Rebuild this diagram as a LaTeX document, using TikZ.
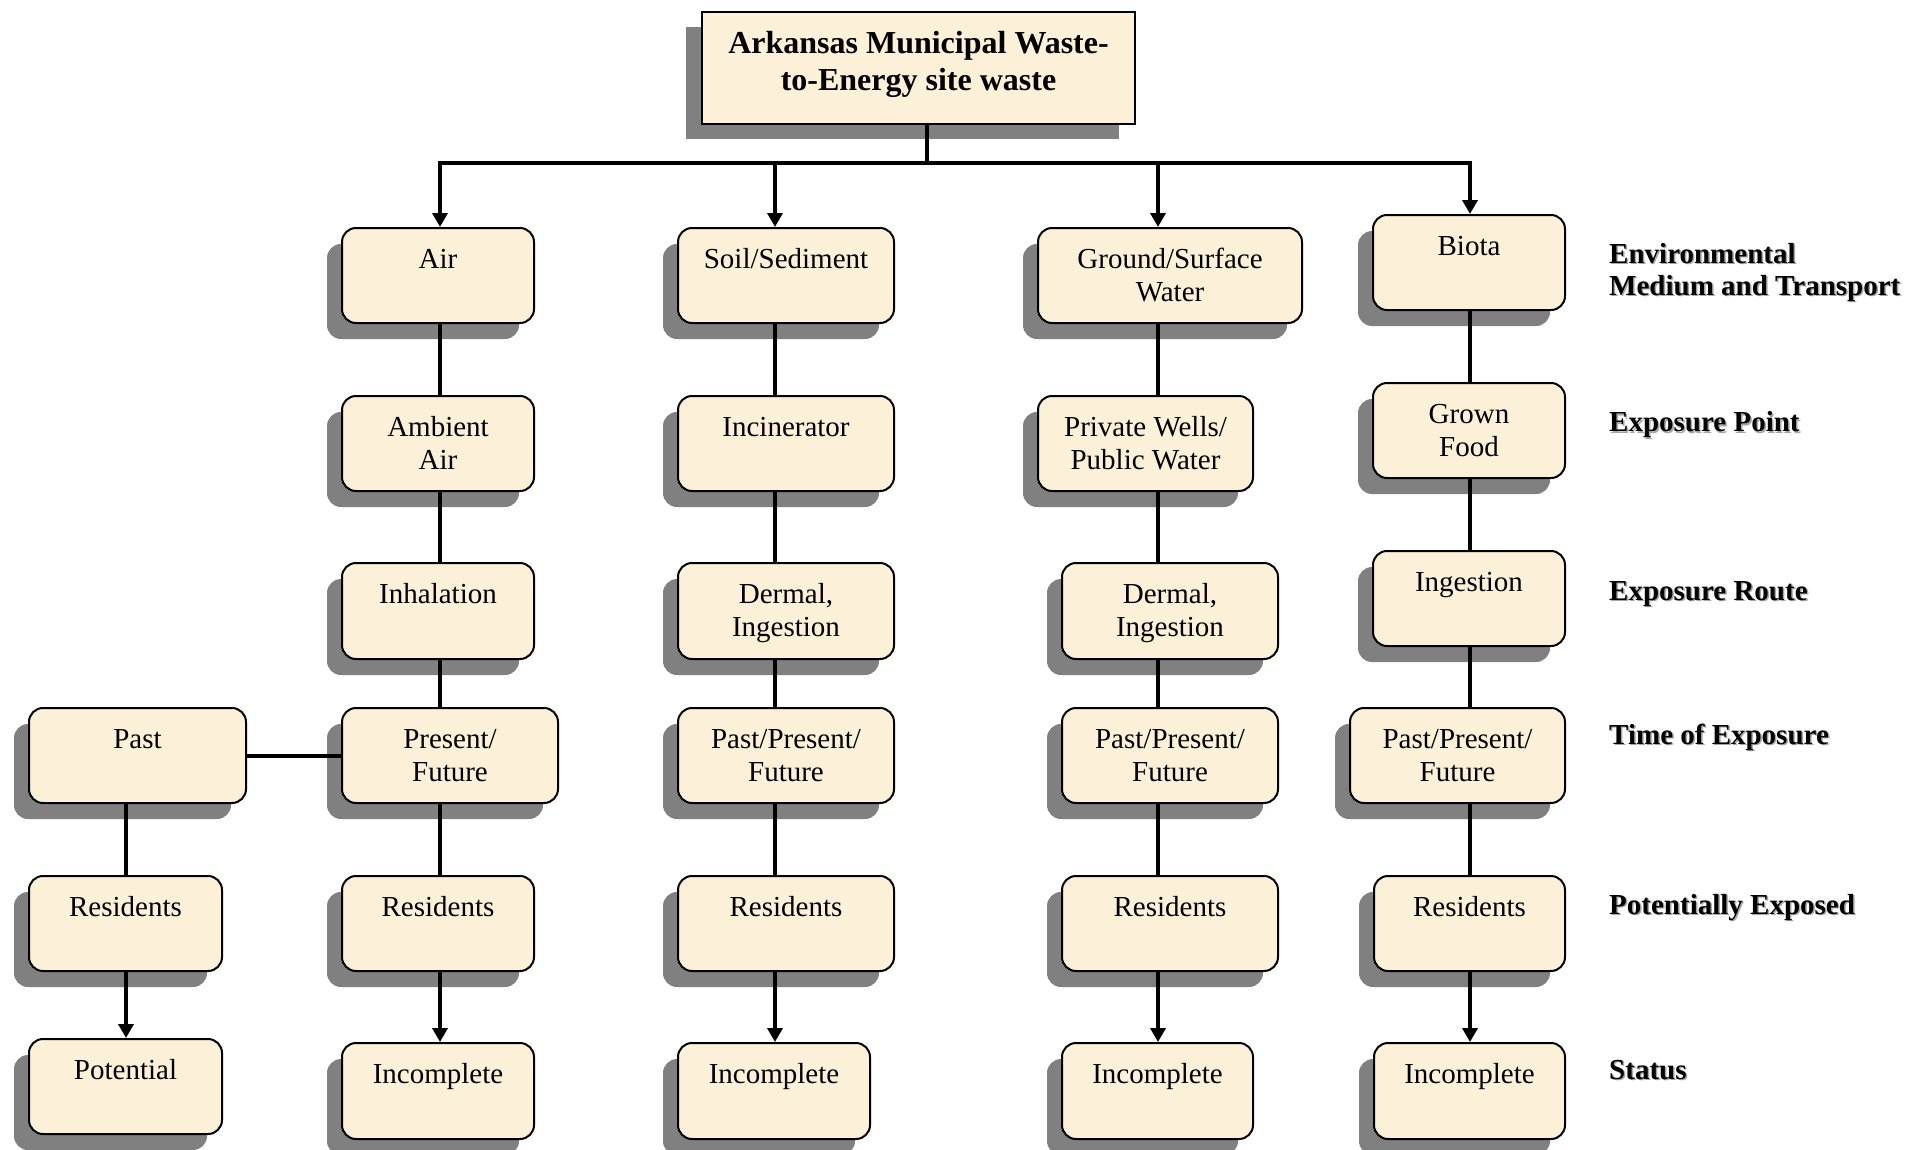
\documentclass[tikz,border=0pt]{standalone}
\usepackage{fontspec}
\setmainfont{Liberation Serif}
\usetikzlibrary{arrows.meta,fit,calc}
\definecolor{cream}{RGB}{252,241,216}
\definecolor{shad}{RGB}{128,128,128}
\tikzset{
  boxst/.style={draw=black, line width=2pt, fill=cream, rounded corners=14pt, inner sep=0pt},
  titlest/.style={draw=black, line width=2pt, fill=cream, inner sep=0pt},
  shadst/.style={fill=shad, rounded corners=14pt},
  txt/.style={inner sep=0pt, align=center, anchor=north, font=\fontsize{29}{33}\selectfont},
  titletxt/.style={inner sep=0pt, align=center, anchor=north, font=\fontsize{32}{37}\selectfont\bfseries},
  lab/.style={inner sep=0pt, align=left, anchor=north west, font=\fontsize{29}{32}\selectfont\bfseries},
  labshad/.style={lab, text=gray!70},
  conn/.style={line width=3.5pt},
  arr/.style={line width=3.5pt, -{Triangle[width=15pt,length=14pt]}},
}
\newcommand\mybox[6]{%
  \fill[shadst] (#2-15,#3+16) rectangle (#4-15,#5+16);
  \node[boxst, fit={(#2,#3) (#4,#5)}] (#1) {};
  \node[txt] (#1-t) at ($(#1.north)+(0,18)$) {\strut #6};
}
\newcommand\mylab[3]{%
  \node[labshad] (#1-s) at (1609+1.5,#2+1.5) {\strut #3};
  \node[lab] (#1) at (1609,#2) {\strut #3};
}
\begin{document}
\begin{tikzpicture}[x=1pt,y=-1pt]
\fill[white] (0,0) rectangle (1913,1149);
\useasboundingbox (0,0) rectangle (1913,1149);

% title
\fill[shad] (686,27) rectangle (1119,139);
\node[titlest, fit={(702,12) (1135,124)}] (top) {};
\node[titletxt] (top-t) at ($(top.north)+(0,16)$) {\strut Arkansas Municipal Waste-\\to-Energy site waste};

% column 1
\mybox{air}{342}{228}{534}{323}{Air}
\mybox{amb}{342}{396}{534}{491}{Ambient\\Air}
\mybox{inh}{342}{563}{534}{659}{Inhalation}
\mybox{pfa}{342}{708}{558}{803}{Present/\\Future}
\mybox{resa}{342}{876}{534}{971}{Residents}
\mybox{inca}{342}{1043}{534}{1139}{Incomplete}
% past column
\mybox{past}{29}{708}{246}{803}{Past}
\mybox{resp}{29}{876}{222}{971}{Residents}
\mybox{pot}{29}{1039}{222}{1134}{Potential}
% column 2
\mybox{soil}{678}{228}{894}{323}{Soil/Sediment}
\mybox{incin}{678}{396}{894}{491}{Incinerator}
\mybox{derb}{678}{563}{894}{659}{Dermal,\\Ingestion}
\mybox{pfb}{678}{708}{894}{803}{Past/Present/\\Future}
\mybox{resb}{678}{876}{894}{971}{Residents}
\mybox{incb}{678}{1043}{870}{1139}{Incomplete}
% column 3
\mybox{gsw}{1038}{228}{1302}{323}{Ground/Surface\\Water}
\mybox{pw}{1038}{396}{1253}{491}{Private Wells/\\Public Water}
\mybox{derc}{1062}{563}{1278}{659}{Dermal,\\Ingestion}
\mybox{pfc}{1062}{708}{1278}{803}{Past/Present/\\Future}
\mybox{resc}{1062}{876}{1278}{971}{Residents}
\mybox{incc}{1062}{1043}{1253}{1139}{Incomplete}
% column 4
\mybox{bio}{1373}{215}{1565}{310}{Biota}
\mybox{gf}{1373}{383}{1565}{478}{Grown\\Food}
\mybox{ing}{1373}{551}{1565}{646}{Ingestion}
\mybox{pfd}{1350}{708}{1565}{803}{Past/Present/\\Future}
\mybox{resd}{1374}{876}{1565}{971}{Residents}
\mybox{incd}{1374}{1043}{1565}{1139}{Incomplete}

% right labels
\mylab{l1}{240.6}{Environmental\\Medium and Transport}
\mylab{l2}{409}{Exposure Point}
\mylab{l3}{577.6}{Exposure Route}
\mylab{l4}{721.6}{Time of Exposure}
\mylab{l5}{891.6}{Potentially Exposed}
\mylab{l6}{1056.6}{Status}

% connector coordinates
\coordinate (tj) at (927,163);
\coordinate (xa) at (440,163);
\coordinate (xb) at (775,163);
\coordinate (xc) at (1158,163);
\coordinate (xd) at (1470,163);
\coordinate (xp) at (126,0);
\coordinate (yl) at (0,756);

\draw[conn] (tj |- top.south) -- (tj);
\draw[conn, line cap=rect] (xa) -- (xd);
\draw[arr] (xa) -- (xa |- air.north);
\draw[arr] (xb) -- (xb |- soil.north);
\draw[arr] (xc) -- (xc |- gsw.north);
\draw[arr] (xd) -- (xd |- bio.north);

% column 1
\draw[conn] (xa |- air.south) -- (xa |- amb.north);
\draw[conn] (xa |- amb.south) -- (xa |- inh.north);
\draw[conn] (xa |- inh.south) -- (xa |- pfa.north);
\draw[conn] (xa |- pfa.south) -- (xa |- resa.north);
\draw[arr] (xa |- resa.south) -- (xa |- inca.north);
% past
\draw[conn] (past.east |- yl) -- (pfa.west |- yl);
\draw[conn] (xp |- past.south) -- (xp |- resp.north);
\draw[arr] (xp |- resp.south) -- (xp |- pot.north);
% column 2
\draw[conn] (xb |- soil.south) -- (xb |- incin.north);
\draw[conn] (xb |- incin.south) -- (xb |- derb.north);
\draw[conn] (xb |- derb.south) -- (xb |- pfb.north);
\draw[conn] (xb |- pfb.south) -- (xb |- resb.north);
\draw[arr] (xb |- resb.south) -- (xb |- incb.north);
% column 3
\draw[conn] (xc |- gsw.south) -- (xc |- pw.north);
\draw[conn] (xc |- pw.south) -- (xc |- derc.north);
\draw[conn] (xc |- derc.south) -- (xc |- pfc.north);
\draw[conn] (xc |- pfc.south) -- (xc |- resc.north);
\draw[arr] (xc |- resc.south) -- (xc |- incc.north);
% column 4
\draw[conn] (xd |- bio.south) -- (xd |- gf.north);
\draw[conn] (xd |- gf.south) -- (xd |- ing.north);
\draw[conn] (xd |- ing.south) -- (xd |- pfd.north);
\draw[conn] (xd |- pfd.south) -- (xd |- resd.north);
\draw[arr] (xd |- resd.south) -- (xd |- incd.north);
\end{tikzpicture}
\end{document}
